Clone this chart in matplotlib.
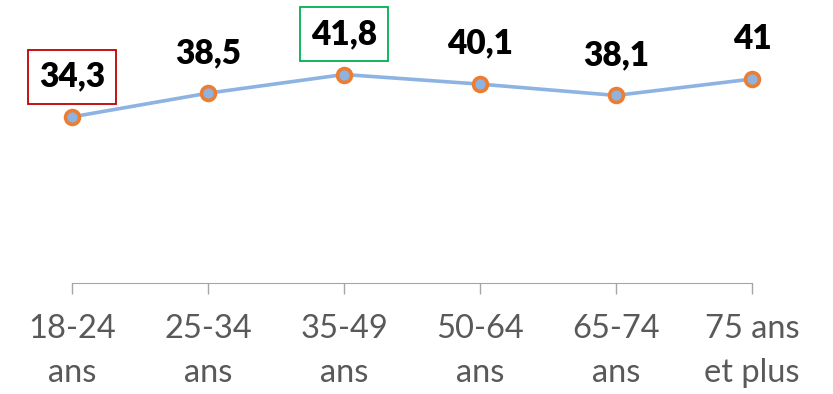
import matplotlib
matplotlib.use('agg')
import matplotlib.pyplot as plt

categories = ["18-24\nans", "25-34\nans", "35-49\nans", "50-64\nans", "65-74\nans", "75 ans\net plus"]
values = [34.3, 38.5, 41.8, 40.1, 38.1, 41]
labels = ["34,3", "38,5", "41,8", "40,1", "38,1", "41"]
boxed = {0: "#C00000", 2: "#00B050"}

plt.rcParams['font.family'] = ['Lato', 'DejaVu Sans']

fig = plt.figure(figsize=(8.33, 3.94), dpi=100)
ax = fig.add_axes([72/833, 111/394, 680/833, 263/394])

x = list(range(len(values)))
ax.plot(x, values, color="#8DB3E2", lw=2.6, marker="o", ms=10,
        mfc="#8DB3E2", mec="#ED7D31", mew=2.6, zorder=3, clip_on=False)

for i, (v, lab) in enumerate(zip(values, labels)):
    kw = {}
    if i in boxed:
        kw["bbox"] = dict(boxstyle="square,pad=0.33", fc="white", ec=boxed[i], lw=1.3)
    ax.annotate(lab, (i, v), xytext=(0, 29), textcoords="offset points",
                ha="center", va="center", fontsize=24, fontweight="heavy",
                color="black", **kw)

ax.set_xlim(0, 5)
ax.set_ylim(4.9, 4.9 + 263/5.65)
ax.set_xticks(x)
ax.set_xticklabels(categories, fontsize=23.5, color="#595959", linespacing=1.62)
ax.tick_params(axis="x", length=8, width=1, color="#A6A6A6", pad=14)
ax.set_yticks([])
for s in ["left", "right", "top"]:
    ax.spines[s].set_visible(False)
ax.spines["bottom"].set_color("#A6A6A6")

plt.savefig("out.png", dpi=100)
